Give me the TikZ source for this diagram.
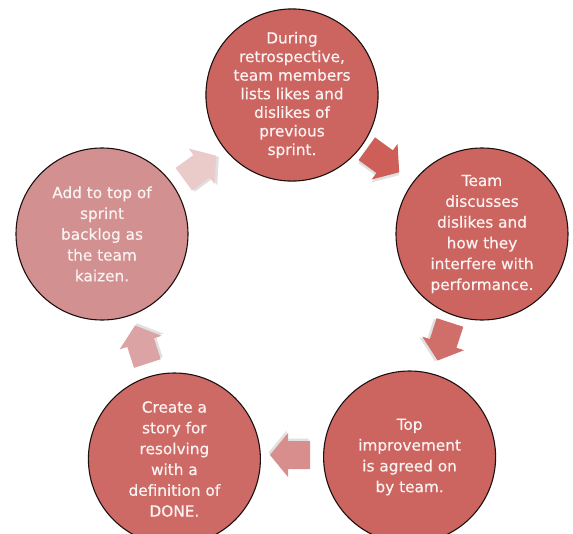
\documentclass[tikz,border=0pt]{standalone}
\usepackage{fontspec}
\setmainfont{DejaVu Sans}
\newfontfamily\circfont{DejaVu Sans}[FakeBold=0.4]
\usetikzlibrary{calc}
\definecolor{circred}{HTML}{CC6560}
\definecolor{circbl}{HTML}{CE6A66}
\definecolor{circpink}{HTML}{D29090}
\definecolor{txtwhite}{HTML}{FBF3F2}
\definecolor{outl}{HTML}{1E1010}
\definecolor{arrA}{HTML}{CD5E58}
\definecolor{arrB}{HTML}{D06F6A}
\definecolor{arrC}{HTML}{D78E8C}
\definecolor{arrD}{HTML}{DBA3A3}
\definecolor{arrE}{HTML}{EBCACA}
\tikzset{
  stepcirc/.style={circle, draw=outl, line width=1.1pt, minimum size=172pt,
    inner sep=0pt, align=center, text=txtwhite,
    font=\circfont\fontsize{15.3}{20.8}\selectfont},
  arrowshadow/.style={fill=black, opacity=0.12},
}
\newcommand\blockarrow[3]{%
  \begin{scope}[shift={(#1)}, rotate=#2]
    \fill[arrowshadow, shift={(1.5,2.5)}] (-20,-14) -- (2,-14) -- (2,-22) -- (20,0) -- (2,22) -- (2,14) -- (-20,14) -- cycle;
    \fill[#3] (-20,-14) -- (2,-14) -- (2,-22) -- (20,0) -- (2,22) -- (2,14) -- (-20,14) -- cycle;
  \end{scope}}
\begin{document}
\begin{tikzpicture}[x=1pt, y=-1pt]
  \useasboundingbox (0,0) rectangle (573,533);
  \clip (0,0) rectangle (573,533);
  \fill[white] (0,0) rectangle (573,533);
  \node[stepcirc, fill=circred, font=\circfont\fontsize{15.3}{18.6}\selectfont] (c1) at (292,95)
    {During\\retrospective,\\team members\\lists likes and\\dislikes of\\previous\\sprint.};
  \node[stepcirc, fill=circred] (c2) at (482,234)
    {Team\\discusses\\dislikes and\\how they\\interfere with\\performance.};
  \node[stepcirc, fill=circred] (c3) at (409.6,457)
    {Top\\improvement\\is agreed on\\by team.};
  \node[stepcirc, fill=circbl] (c4) at (174.4,459)
    {Create a\\story for\\resolving\\with a\\definition of\\DONE.};
  \node[stepcirc, fill=circpink] (c5) at (102,234)
    {Add to top of\\sprint\\backlog as\\the team\\kaizen.};
  \coordinate (m1) at ($(c1)!0.5!(c2)+(-4,-4)$);
  \coordinate (m2) at ($(c2)!0.5!(c3)+(-2,-4)$);
  \coordinate (m3) at ($(c3)!0.5!(c4)+(-2,-3)$);
  \coordinate (m4) at ($(c4)!0.5!(c5)+(3,-2)$);
  \coordinate (m5) at ($(c5)!0.5!(c1)+(3,3)$);
  \blockarrow{m1}{-36}{arrA}
  \blockarrow{m2}{-108}{arrB}
  \blockarrow{m3}{180}{arrC}
  \blockarrow{m4}{108}{arrD}
  \blockarrow{m5}{36}{arrE}
\end{tikzpicture}
\end{document}
